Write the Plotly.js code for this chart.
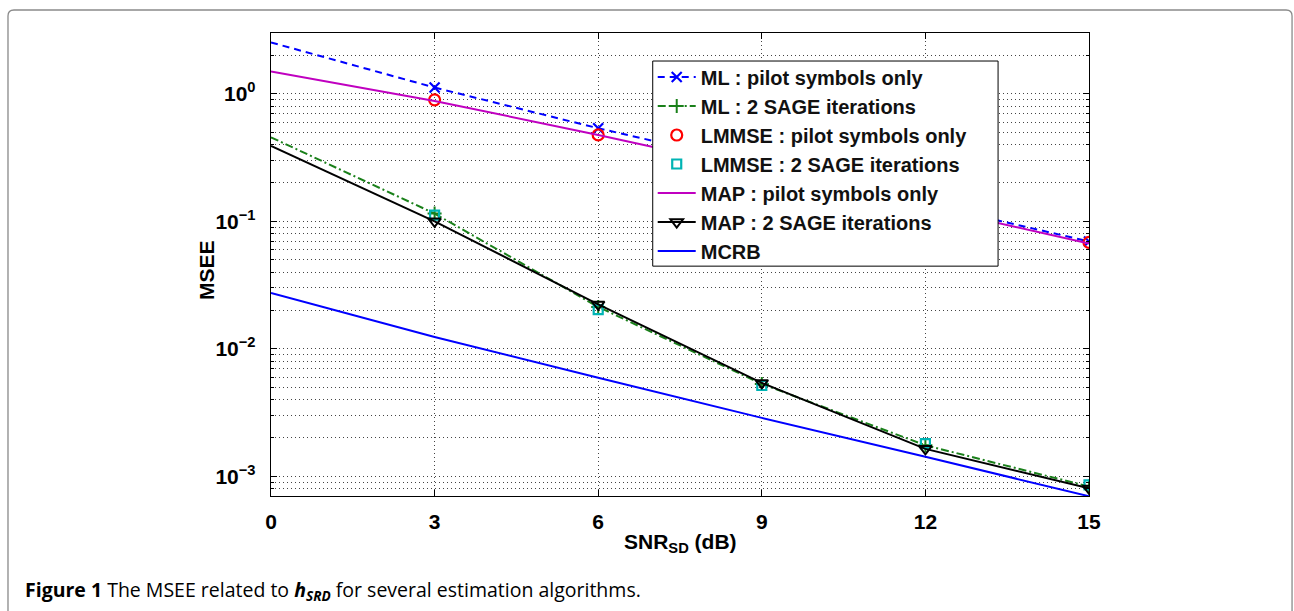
<!DOCTYPE html>
<html>
<head>
<meta charset="utf-8">
<script src="https://cdn.plot.ly/plotly-3.0.1.min.js"></script>
<style>
  html, body { margin: 0; padding: 0; background: #fff; }
  #chart { width: 1294px; height: 611px; }
</style>
</head>
<body>
<div id="chart"></div>
<script>
// ---------- data ----------
const snr = [0, 3, 6, 9, 12, 15];            // SNR_SD (dB), line samples
const snrMarked = [3, 6, 9, 12, 15];         // points carrying markers
const mlPilot   = [2.53, 1.12, 0.537, 0.272, 0.137, 0.0695];
const mlSage    = [0.456, 0.115, 0.0213, 0.0053, 0.00175, 0.00083];
const lmmsePilot = [0.897, 0.476, 0.249, 0.130, 0.0683];
const lmmseSage  = [0.112, 0.0203, 0.00515, 0.0018, 0.000855];
const mapPilot  = [1.50, 0.88, 0.476, 0.249, 0.130, 0.067];
const mapSage   = [0.39, 0.1, 0.0223, 0.0054, 0.00164, 0.000803];
const mcrb      = [0.0274, 0.01236, 0.00592, 0.00287, 0.00142, 0.000697];

const seriesNames = [
  'ML : pilot symbols only',
  'ML : 2 SAGE iterations',
  'LMMSE : pilot symbols only',
  'LMMSE : 2 SAGE iterations',
  'MAP : pilot symbols only',
  'MAP : 2 SAGE iterations',
  'MCRB'
];
const yTickVals = [1e-3, 1e-2, 1e-1, 1];
const yTickText = ['10<sup>\u22123</sup>', '10<sup>\u22122</sup>', '10<sup>\u22121</sup>', '10<sup>0</sup>'];
const xTickVals = [0, 3, 6, 9, 12, 15];

// ---------- layout geometry ----------
const W = 1294, H = 611;
const L = 270.7, R = 1089.3, T = 33, B = 495.7;
const px2x = p => (p - L) / (R - L);
const px2y = p => (B - p) / (B - T);

// minor log ticks
const minorVals = [];
for (let e = -4; e <= 0; e++) {
  for (let m = 2; m <= 9; m++) minorVals.push(m * Math.pow(10, e));
}

const BLUE = '#0000ff', GREEN = '#1a801a', RED = '#ff0000', CYAN = '#00b4b4',
      MAG = '#c000c0', BLACK = '#000000';

const traces = [];
function lead(y, line, group) {
  traces.push({x: snr.slice(0, 2), y: y.slice(0, 2), mode: 'lines', line: line,
               showlegend: false, legendgroup: group, hoverinfo: 'skip'});
}
// ML pilot
lead(mlPilot, {color: BLUE, width: 2, dash: '7px,5px'}, 'g1');
traces.push({x: snrMarked, y: mlPilot.slice(1), name: seriesNames[0], legendgroup: 'g1',
  mode: 'lines+markers', line: {color: BLUE, width: 2, dash: '7px,5px'},
  marker: {symbol: 'x-thin-open', size: 10, color: BLUE, line: {color: BLUE, width: 2.2}}});
// ML SAGE
lead(mlSage, {color: GREEN, width: 2, dash: '8px,3px,2px,3px'}, 'g2');
traces.push({x: snrMarked, y: mlSage.slice(1), name: seriesNames[1], legendgroup: 'g2',
  mode: 'lines+markers', line: {color: GREEN, width: 2, dash: '8px,3px,2px,3px'},
  marker: {symbol: 'cross-thin-open', size: 10, color: GREEN, line: {color: GREEN, width: 2}}});
// LMMSE pilot
traces.push({x: snrMarked, y: lmmsePilot, name: seriesNames[2], legendgroup: 'g3',
  mode: 'markers',
  marker: {symbol: 'circle-open', size: 11, color: RED, line: {color: RED, width: 2.2}}});
// LMMSE SAGE
traces.push({x: snrMarked, y: lmmseSage, name: seriesNames[3], legendgroup: 'g4',
  mode: 'markers',
  marker: {symbol: 'square-open', size: 9, color: CYAN, line: {color: CYAN, width: 2.2}}});
// MAP pilot
traces.push({x: snr, y: mapPilot, name: seriesNames[4], legendgroup: 'g5',
  mode: 'lines', line: {color: MAG, width: 2}});
// MAP SAGE
lead(mapSage, {color: BLACK, width: 2}, 'g6');
traces.push({x: snrMarked, y: mapSage.slice(1), name: seriesNames[5], legendgroup: 'g6',
  mode: 'lines+markers', line: {color: BLACK, width: 2},
  marker: {symbol: 'triangle-down-open', size: 11, color: BLACK, line: {color: BLACK, width: 2}}});
// MCRB
traces.push({x: snr, y: mcrb, name: seriesNames[6], legendgroup: 'g7',
  mode: 'lines', line: {color: BLUE, width: 2}});

const FONT = 'Liberation Sans, Arial, Helvetica, sans-serif';
const gridCol = '#444444';
const gridDash = '1px,3px';

// rounded outer frame (pixel coords -> paper)
const fl = 7.5, ft = 10, fr = 1292.5, fb = 640, rr = 6;
const framePath = [
  'M', px2x(fl), px2y(fb),
  'L', px2x(fl), px2y(ft + rr),
  'Q', px2x(fl), px2y(ft), px2x(fl + rr), px2y(ft),
  'L', px2x(fr - rr), px2y(ft),
  'Q', px2x(fr), px2y(ft), px2x(fr), px2y(ft + rr),
  'L', px2x(fr), px2y(fb)
].join(' ');

const layout = {
  width: W, height: H,
  margin: {l: L, r: W - R, t: T, b: H - B, pad: 0},
  paper_bgcolor: '#ffffff', plot_bgcolor: '#ffffff',
  showlegend: true,
  font: {family: FONT, color: '#000'},
  xaxis: {
    range: [0, 15], tickmode: 'array', tickvals: xTickVals,
    ticks: 'inside', ticklen: 6, tickwidth: 1, tickcolor: '#000',
    showline: true, linecolor: '#000', linewidth: 1.3, mirror: 'ticks',
    showgrid: true, gridcolor: gridCol, gridwidth: 1, griddash: gridDash,
    zeroline: false, ticklabelstandoff: 6,
    tickfont: {family: FONT, size: 21, weight: 'bold', color: '#000'}
  },
  yaxis: {
    type: 'log', range: [Math.log10(0.0007), Math.log10(3)],
    tickmode: 'array', tickvals: yTickVals, ticktext: yTickText,
    ticks: 'inside', ticklen: 6, tickwidth: 1, tickcolor: '#000',
    showline: true, linecolor: '#000', linewidth: 1.3, mirror: 'ticks',
    showgrid: true, gridcolor: gridCol, gridwidth: 1, griddash: gridDash,
    zeroline: false, ticklabelstandoff: 10,
    tickfont: {family: FONT, size: 21, weight: 'bold', color: '#000'},
    minor: {tickmode: 'array', tickvals: minorVals, ticks: 'inside', ticklen: 3,
            tickcolor: '#000', showgrid: true, gridcolor: gridCol, gridwidth: 1, griddash: gridDash}
  },
  legend: {
    x: px2x(652.7), y: px2y(57.5), xanchor: 'left', yanchor: 'top',
    bgcolor: 'rgba(255,255,255,0)', borderwidth: 0,
    font: {family: FONT, size: 20, weight: 'bold', color: '#111'},
    traceorder: 'normal', itemwidth: 38
  },
  shapes: [
    {type: 'path', xref: 'paper', yref: 'paper', path: framePath,
     line: {color: '#8a8a8a', width: 1.3}, layer: 'below'},
    {type: 'rect', xref: 'paper', yref: 'paper',
     x0: px2x(652.7), x1: px2x(998.3), y0: px2y(266), y1: px2y(61),
     fillcolor: '#ffffff', line: {color: '#000', width: 1}, layer: 'above'}
  ],
  annotations: [
    {text: 'MSEE', xref: 'paper', yref: 'paper', x: px2x(205.5), y: px2y(270),
     xanchor: 'center', yanchor: 'middle', textangle: -90, showarrow: false,
     font: {family: FONT, size: 21, weight: 'bold', color: '#000'}},
    {text: 'SNR<sub>SD</sub> (dB)', xref: 'paper', yref: 'paper', x: px2x(680), y: px2y(543),
     xanchor: 'center', yanchor: 'middle', showarrow: false,
     font: {family: FONT, size: 21, weight: 'bold', color: '#000'}},
    {text: '<b>Figure 1</b> The MSEE related to <b><i>h</i></b><sub><b><i>SRD</i></b></sub> for several estimation algorithms.',
     xref: 'paper', yref: 'paper', x: px2x(23), y: px2y(590),
     xanchor: 'left', yanchor: 'middle', showarrow: false,
     font: {family: 'Open Sans, Noto Sans, sans-serif', size: 19.5, color: '#000'}}
  ]
};

Plotly.newPlot('chart', traces, layout, {displayModeBar: false, staticPlot: true});
</script>
</body>
</html>
